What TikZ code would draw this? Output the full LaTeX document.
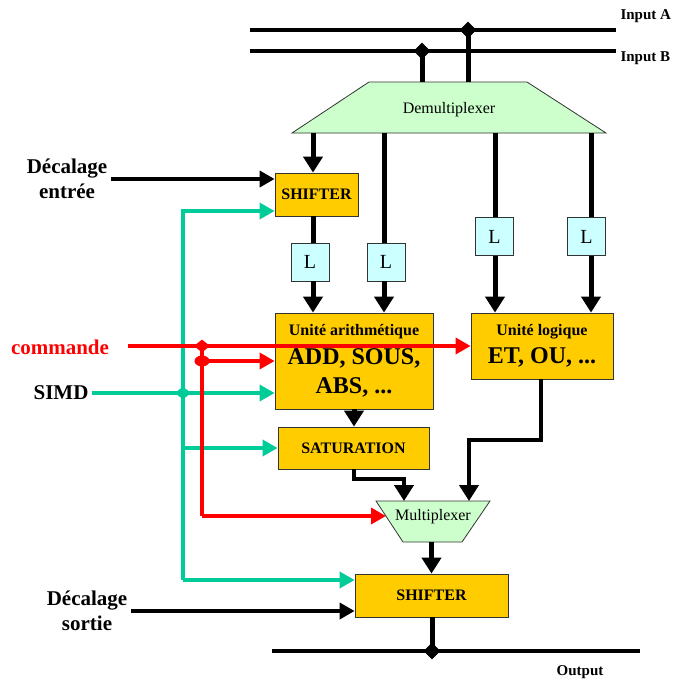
\documentclass[tikz,border=0pt]{standalone}
\usepackage{fontspec}
\setmainfont{Liberation Serif}
\usetikzlibrary{arrows.meta,shapes.geometric}
\definecolor{boxgold}{HTML}{FFCC00}
\definecolor{muxgreen}{HTML}{CCFFCC}
\definecolor{latchcyan}{HTML}{CCFFFF}
\definecolor{ctrlgreen}{HTML}{00CC99}
\definecolor{ctrlred}{HTML}{FF0000}

\begin{document}
\begin{tikzpicture}[x=1pt,y=-1pt,
  opbox/.style={draw=black!80,line width=0.8pt,fill=boxgold,inner sep=0pt,
    font=\bfseries\fontsize{16}{19}\selectfont},
  latch/.style={draw=black!80,line width=0.8pt,fill=latchcyan,minimum width=38pt,
    minimum height=38pt,inner sep=0pt,font=\fontsize{20}{24}\selectfont},
  muxshape/.style={draw=black!80,line width=0.8pt,fill=muxgreen},
  bus/.style={line width=5pt},
  wire/.style={line width=4pt},
  ctrl/.style={line width=3.5pt},
  tip/.style={-{Triangle[length=16pt,width=19pt]}},
  stip/.style={-{Triangle[length=15pt,width=16pt]}},
  jdot/.style={diamond,fill,inner sep=0pt,minimum width=17pt,minimum height=17pt},
  lbl/.style={font=\bfseries\fontsize{21}{25}\selectfont,align=center},
  small/.style={font=\bfseries\fontsize{15}{18}\selectfont},
  plain/.style={font=\fontsize{16}{19}\selectfont}
]
\useasboundingbox (0,0) rectangle (673,683);

% ---------- input buses ----------
\coordinate (a0) at (250,30);
\coordinate (a1) at (616,30);
\coordinate (b0) at (250,51);
\coordinate (b1) at (616,51);
\draw[wire] (a0) -- (a1);
\draw[wire] (b0) -- (b1);
\node[small,anchor=west] (inA) at (617,16) {Input A};
\node[small,anchor=west] (inB) at (617,58) {Input B};

% ---------- demultiplexer ----------
\draw[muxshape] (369,82) -- (527,82) -- (606,133) -- (292,133) -- cycle;
\node[plain] (demux) at (449,110) {Demultiplexer};
\coordinate (dmtop) at (449,82);
\coordinate (d1) at (313,133);
\coordinate (d2) at (384,133);
\coordinate (d3) at (495,133);
\coordinate (d4) at (591,133);

% ---------- operator boxes ----------
\node[opbox,minimum width=83pt,minimum height=43pt] (sh1) at (316.5,194.5) {SHIFTER};
\node[latch] (l1) at (310,262) {L};
\node[latch] (l2) at (386,262) {L};
\node[latch] (l3) at (494.5,236.5) {L};
\node[latch] (l4) at (586.5,236.5) {L};
\node[opbox,minimum width=158pt,minimum height=96pt,align=center,
  font=\bfseries\fontsize{24}{29}\selectfont] (aru) at (354,361)
  {{\fontsize{16}{19}\selectfont Unité arithmétique}\\ADD, SOUS,\\ABS, ...};
\node[opbox,minimum width=142pt,minimum height=66pt,align=center,
  font=\bfseries\fontsize{24}{28}\selectfont] (ul) at (542,346)
  {{\fontsize{16}{19}\selectfont Unité logique}\\ET, OU, ...};
\node[opbox,minimum width=151pt,minimum height=42pt] (sat) at (353.5,448) {SATURATION};
\node[opbox,minimum width=153pt,minimum height=43pt] (sh2) at (431.5,595.5) {SHIFTER};

% ---------- multiplexer ----------
\draw[muxshape] (376,501) -- (490,501) -- (462,542) -- (403,542) -- cycle;
\node[plain] (mux) at (433,517) {Multiplexer};
\coordinate (m1) at (404,501);
\coordinate (m2) at (469,501);
\coordinate (mleft) at (386,516);
\coordinate (mbot) at (431.5,542);

% ---------- data path ----------
\node[jdot] (ja) at (468,30) {};
\node[jdot] (jb) at (422,51) {};
\draw[bus] (ja.center) -- (ja.center |- dmtop);
\draw[bus] (jb.center) -- (jb.center |- dmtop);

\draw[bus,tip] (d1) -- (d1 |- sh1.north);
\draw[bus] (d1 |- sh1.south) -- (d1 |- l1.north);
\draw[bus,tip] (d1 |- l1.south) -- (d1 |- aru.north);
\draw[bus] (d2) -- (d2 |- l2.north);
\draw[bus,tip] (d2 |- l2.south) -- (d2 |- aru.north);
\draw[bus] (d3) -- (d3 |- l3.north);
\draw[bus,tip] (d3 |- l3.south) -- (d3 |- ul.north);
\draw[bus] (d4) -- (d4 |- l4.north);
\draw[bus,tip] (d4 |- l4.south) -- (d4 |- ul.north);

\draw[bus,tip] (aru.south) -- (aru.south |- sat.north);
\draw[wire,tip] (sat.south) -- ++(0,10) -| (m1);
\draw[wire,tip] (541,0 |- ul.south) -- (541,440) -| (m2);
\draw[bus,tip] (mbot) -- (mbot |- sh2.north);

% ---------- output ----------
\coordinate (o0) at (272,651);
\coordinate (o1) at (640,651);
\draw[wire] (o0) -- (o1);
\node[jdot] (jo) at (432,651) {};
\draw[bus] (sh2.south -| jo) -- (jo.center);
\node[small] (outp) at (580,672) {Output};

% ---------- shift amount inputs ----------
\node[lbl] (decin) at (67,179) {Décalage\\entrée};
\draw[wire,stip] (decin.east) -- (decin.east -| sh1.west);
\node[lbl] (decout) at (87,611) {Décalage\\sortie};
\draw[wire,stip] (decout.east) -- (decout.east -| sh2.west);

% ---------- SIMD control ----------
\node[lbl] (simd) at (61,393) {SIMD};
\coordinate (gtop) at (183,211);
\coordinate (gbot) at (183,580);
\draw[ctrl,ctrlgreen,stip] (gbot) -- (gtop) -- (gtop -| sh1.west);
\draw[ctrl,ctrlgreen,stip] (gbot) -- (gbot -| sh2.west);
\draw[ctrl,ctrlgreen,stip] (simd.east) -- (simd.east -| aru.west);
\draw[ctrl,ctrlgreen,stip] (gtop |- sat.west) -- (sat.west);
\node[jdot,ctrlgreen,minimum width=16pt,minimum height=13pt] (jg) at (183,393) {};

% ---------- command ----------
\node[lbl,text=ctrlred] (cmd) at (60,347) {commande};
\coordinate (r0) at (128,346);
\coordinate (rbot) at (202,516);
\draw[ctrl,ctrlred,stip] (r0) -- (r0 -| ul.west);
\draw[ctrl,ctrlred] (202,346) -- (rbot);
\draw[ctrl,ctrlred,stip] (rbot) -- (mleft);
\node[jdot,ctrlred,minimum width=16pt,minimum height=13pt] (jr) at (202,346) {};
\node[ellipse,fill=ctrlred,inner sep=0pt,minimum width=15pt,minimum height=11pt] (rc) at (202,361) {};
\draw[ctrl,ctrlred,stip] (rc.center) -- (rc.center -| aru.west);
\end{tikzpicture}
\end{document}
